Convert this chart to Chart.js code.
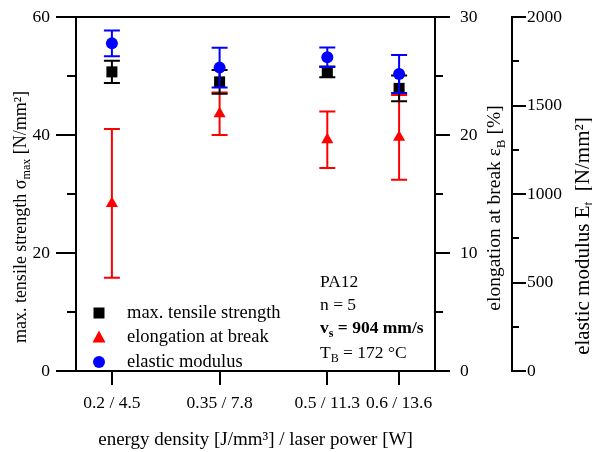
<!DOCTYPE html>
<html>
<head>
<meta charset="utf-8">
<script src="https://cdn.jsdelivr.net/npm/chart.js@4.4.1/dist/chart.umd.min.js"></script>
<style>
    html, body { margin: 0; padding: 0; background: #fff; }
    #wrap { width: 592px; height: 452px; }
</style>
</head>
<body>
<div id="wrap"><canvas id="chart"></canvas></div>
<script>
// Data
const energy = [0.2, 0.35, 0.5, 0.6];
const xLabels = ['0.2 / 4.5', '0.35 / 7.8', '0.5 / 11.3', '0.6 / 13.6'];

const strength = [50.7, 49.0, 50.7, 47.9];
const strengthErr = [1.9, 2.0, 0.9, 2.2];

const elongation = [14.2, 21.8, 19.6, 19.8];
const elongationErr = [6.3, 1.8, 2.4, 3.6];

const modulus = [1851, 1714, 1772, 1678];
const modulusErr = [73, 112, 55, 108];

// Tick marks
const strengthMajor = [0, 20, 40, 60];
const strengthMinor = [10, 30, 50];
const elongMajor = [0, 10, 20, 30];
const elongMinor = [5, 15, 25];
const modulusMajor = [0, 500, 1000, 1500, 2000];
const modulusMinor = [250, 750, 1250, 1750];

const FONT = '"Liberation Serif", "Times New Roman", serif';

/**
 * Draw a run of text pieces, some of them subscript
 */
function richText(ctx, parts, x, y, align, size) {
    size = size || 18;
    const subSize = Math.round(size * 0.68);
    const fontFor = p => (p.bold ? 'bold ' : '') + (p.sub ? subSize : size) + 'px ' + FONT;
    let total = 0;
    parts.forEach(p => {
        ctx.font = fontFor(p);
        p.w = ctx.measureText(p.t).width;
        total += p.w;
    });
    let cx = align === 'center' ? x - total / 2 : x;
    ctx.textBaseline = 'middle';
    ctx.textAlign = 'left';
    parts.forEach(p => {
        ctx.font = fontFor(p);
        ctx.fillText(p.t, cx, p.sub ? y + size * 0.32 : y);
        cx += p.w;
    });
}

function rotatedText(ctx, parts, x, y, size) {
    ctx.save();
    ctx.translate(x, y);
    ctx.rotate(-Math.PI / 2);
    richText(ctx, parts, 0, 0, 'center', size);
    ctx.restore();
}

function drawMarker(ctx, style, x, y, color) {
    ctx.fillStyle = color;
    ctx.beginPath();
    if (style === 'rect') {
        ctx.rect(x - 5.5, y - 5.5, 11, 11);
    } else if (style === 'triangle') {
        ctx.moveTo(x, y - 7);
        ctx.lineTo(x + 6.5, y + 5);
        ctx.lineTo(x - 6.5, y + 5);
        ctx.closePath();
    } else {
        ctx.arc(x, y, 6, 0, Math.PI * 2);
    }
    ctx.fill();
}

const errorBarPlugin = {
    id: 'errorBars',
    beforeDatasetDraw(chart, args) {
        const ds = chart.data.datasets[args.index];
        if (!ds.errors) return;
        const ctx = chart.ctx;
        const scale = chart.scales[ds.yAxisID];
        ctx.save();
        ctx.strokeStyle = ds.backgroundColor;
        ctx.lineWidth = 2;
        args.meta.data.forEach((pt, i) => {
            const v = ds.data[i].y;
            const top = scale.getPixelForValue(v + ds.errors[i]);
            const bottom = scale.getPixelForValue(v - ds.errors[i]);
            ctx.beginPath();
            ctx.moveTo(pt.x, top);
            ctx.lineTo(pt.x, bottom);
            ctx.moveTo(pt.x - 8, top);
            ctx.lineTo(pt.x + 8, top);
            ctx.moveTo(pt.x - 8, bottom);
            ctx.lineTo(pt.x + 8, bottom);
            ctx.stroke();
        });
        ctx.restore();
    }
};

const decorPlugin = {
    id: 'decor',
    afterDraw(chart) {
        const ctx = chart.ctx;
        const area = chart.chartArea;
        const s = chart.scales;
        ctx.save();
        ctx.strokeStyle = '#000';
        ctx.fillStyle = '#000';
        ctx.lineWidth = 2;

        // Top frame line
        ctx.beginPath();
        ctx.moveTo(area.left - 1, area.top);
        ctx.lineTo(area.right + 1, area.top);
        ctx.stroke();

        // Tick marks
        const vTicks = (scale, x0, values, len) => {
            values.forEach(v => {
                const y = Math.round(scale.getPixelForValue(v));
                ctx.beginPath();
                ctx.moveTo(x0, y);
                ctx.lineTo(x0 + len, y);
                ctx.stroke();
            });
        };
        vTicks(s.y, s.y.right, strengthMajor, -20);
        vTicks(s.y, s.y.right, strengthMinor, -9);
        vTicks(s.y2, s.y2.left, elongMajor, 15);
        vTicks(s.y2, s.y2.left, elongMinor, 8);
        vTicks(s.y3, s.y3.left, modulusMajor, 14);
        vTicks(s.y3, s.y3.left, modulusMinor, 7);
        energy.forEach(v => {
            const x = Math.round(s.x.getPixelForValue(v));
            ctx.beginPath();
            ctx.moveTo(x, s.x.top);
            ctx.lineTo(x, s.x.top + 14);
            ctx.stroke();
        });

        // Axis titles
        richText(ctx, [{ t: 'energy density [J/mm³] / laser power [W]' }],
            (area.left + area.right) / 2, 440, 'center', 19);
        rotatedText(ctx, [
            { t: 'max. tensile strength σ' }, { t: 'max', sub: true }, { t: ' [N/mm²]' }
        ], 21, 217, 18);
        rotatedText(ctx, [
            { t: 'elongation at break ε' }, { t: 'B', sub: true }, { t: ' [%]' }
        ], 495, 208, 19.5);
        rotatedText(ctx, [
            { t: 'elastic modulus E' }, { t: 't', sub: true }, { t: '  [N/mm²]' }
        ], 583, 236, 21);

        // Legend
        const legend = [
            { text: 'max. tensile strength', style: 'rect', color: '#000' },
            { text: 'elongation at break', style: 'triangle', color: '#ff0000' },
            { text: 'elastic modulus', style: 'circle', color: '#0000ff' }
        ];
        legend.forEach((item, i) => {
            const y = 313 + i * 24.5;
            drawMarker(ctx, item.style, 99, y, item.color);
            ctx.fillStyle = '#000';
            richText(ctx, [{ t: item.text }], 127, y, 'left', 18.5);
        });

        // Process parameters
        ctx.fillStyle = '#000';
        richText(ctx, [{ t: 'PA12' }], 320, 282, 'left', 17.5);
        richText(ctx, [{ t: 'n = 5' }], 320, 305, 'left', 17.5);
        richText(ctx, [
            { t: 'v', bold: true }, { t: 's', sub: true, bold: true }, { t: ' = 904 mm/s', bold: true }
        ], 320, 328, 'left', 17.5);
        richText(ctx, [{ t: 'T' }, { t: 'B', sub: true }, { t: ' = 172 °C' }], 320, 353, 'left', 17.5);

        ctx.restore();
    }
};

const toPoints = values => values.map((v, i) => ({ x: energy[i], y: v }));

const axisFont = { family: FONT, size: 17.5 };
const border = { display: true, color: '#000', width: 2 };
const noGrid = { drawOnChartArea: false, drawTicks: false };

// Fixed axis sizes, with no extra room for half labels
const fitY = width => scale => {
    scale.width = width;
    scale.paddingTop = 0;
    scale.paddingBottom = 0;
};

new Chart(document.getElementById('chart'), {
    type: 'scatter',
    data: {
        datasets: [
            {
                label: 'elastic modulus',
                data: toPoints(modulus),
                errors: modulusErr,
                yAxisID: 'y3',
                backgroundColor: '#0000ff',
                borderColor: '#0000ff',
                pointStyle: 'circle',
                pointRadius: 6,
                borderWidth: 0,
                order: 0
            },
            {
                label: 'max. tensile strength',
                data: toPoints(strength),
                errors: strengthErr,
                yAxisID: 'y',
                backgroundColor: '#000000',
                borderColor: '#000000',
                pointStyle: 'rect',
                pointRadius: 7.8,
                borderWidth: 0,
                order: 1
            },
            {
                label: 'elongation at break',
                data: toPoints(elongation),
                errors: elongationErr,
                yAxisID: 'y2',
                backgroundColor: '#ff0000',
                borderColor: '#ff0000',
                pointStyle: 'triangle',
                pointRadius: 7,
                borderWidth: 0,
                order: 2
            }
        ]
    },
    options: {
        responsive: true,
        maintainAspectRatio: false,
        animation: false,
        events: [],
        layout: { padding: { top: 17, left: 0, right: 0, bottom: 0 } },
        plugins: {
            legend: { display: false },
            tooltip: { enabled: false }
        },
        scales: {
            x: {
                type: 'linear',
                min: 0.15,
                max: 0.65,
                border: border,
                grid: noGrid,
                afterBuildTicks: scale => { scale.ticks = energy.map(v => ({ value: v })); },
                afterFit: scale => {
                    scale.height = 81;
                    scale.paddingLeft = 0;
                    scale.paddingRight = 0;
                },
                ticks: {
                    autoSkip: false,
                    maxRotation: 0,
                    padding: 22,
                    color: '#000',
                    font: axisFont,
                    callback: (value, index) => xLabels[index]
                }
            },
            y: {
                position: 'left',
                min: 0,
                max: 60,
                border: border,
                grid: noGrid,
                afterFit: fitY(76),
                ticks: { stepSize: 20, padding: 26, color: '#000', font: axisFont, callback: v => String(v) }
            },
            y2: {
                position: 'right',
                weight: 0,
                min: 0,
                max: 30,
                border: border,
                grid: noGrid,
                afterFit: fitY(77),
                ticks: { stepSize: 10, padding: 25, color: '#000', font: axisFont, callback: v => String(v) }
            },
            y3: {
                position: 'right',
                weight: 1,
                min: 0,
                max: 2000,
                border: border,
                grid: noGrid,
                afterFit: fitY(80),
                ticks: { stepSize: 500, padding: 15, color: '#000', font: axisFont, callback: v => String(v) }
            }
        }
    },
    plugins: [errorBarPlugin, decorPlugin]
});
</script>
</body>
</html>
